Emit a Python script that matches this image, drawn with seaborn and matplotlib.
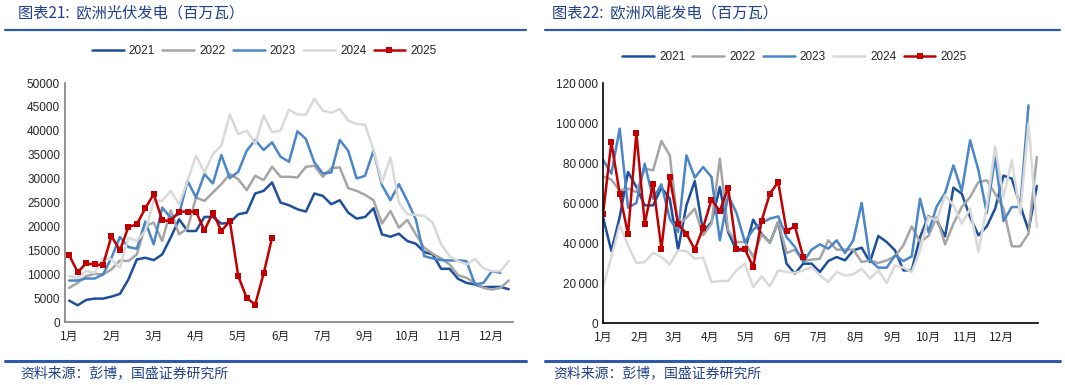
import pandas as pd
import seaborn as sns
import matplotlib.pyplot as plt

years = ['2021', '2022', '2023', '2024', '2025']
colors = ['#1C4F9C', '#A5A5A5', '#4A86C8', '#D9D9D9', '#C00000']

# 欧洲光伏发电（百万瓦）, weekly
pv_2021 = [4480, 3500, 4620, 4900, 4900, 5320, 5880, 8890, 13090, 13440,
           12950, 14140, 17640, 21490, 19040, 19040, 21980, 21980, 20580, 20790,
           22540, 22890, 26880, 27440, 29190, 24990, 24430, 23590, 23100, 26880,
           26390, 24640, 25480, 22890, 21630, 21980, 23800, 18340, 17850, 18480,
           16940, 16380, 14630, 14140, 11130, 11130, 9030, 8190, 7840, 7280,
           7350, 7350, 6860]
pv_2022 = [7140, 8190, 9590, 10080, 9940, 10990, 12880, 12740, 14140, 20090,
           20790, 16940, 23380, 18340, 19600, 26040, 25340, 27090, 28840, 30940,
           29890, 27580, 30590, 29680, 32480, 30380, 30380, 30240, 32480, 32690,
           30380, 32200, 32340, 28000, 27440, 26600, 25480, 20580, 23240, 19740,
           21350, 18340, 15540, 14280, 13300, 12040, 9800, 9240, 8190, 7140,
           6790, 7140, 8680]
pv_2023 = [8680, 8680, 9100, 9100, 9940, 13440, 17780, 15680, 15330, 21000,
           16240, 23940, 21840, 22540, 29540, 26040, 30940, 28980, 34930, 30100,
           31430, 35840, 38080, 35980, 37590, 34580, 33530, 39900, 38290, 33390,
           31080, 31290, 38080, 35840, 30030, 30590, 35840, 28630, 25480, 28840,
           25340, 21490, 13790, 13300, 12950, 12880, 12880, 12740, 7840, 8190,
           10640, 10290]
pv_2024 = [9590, 9240, 10640, 10290, 13440, 13090, 11340, 17640, 16940, 19040,
           25340, 25340, 27440, 24640, 29540, 34790, 31290, 35140, 36890, 43400,
           39340, 40040, 37240, 43190, 39690, 40040, 44450, 43400, 43400, 46690,
           44240, 43750, 44590, 42140, 41440, 41300, 35980, 29190, 34440, 24990,
           22540, 22400, 22190, 20790, 16240, 13790, 12740, 12040, 13230, 11200,
           10640, 10640, 12740]
pv_2025 = [14000, 10430, 12250, 12040, 11900, 17990, 14980, 19880, 20440, 23800,
           26740, 21280, 21140, 23100, 23100, 23100, 19180, 22890, 19040, 21140,
           9590, 5040, 3640, 10150, 17640]
pv_labels = ['1月', '2月', '3月', '4月', '5月', '6月', '7月', '9月', '10月', '11月', '12月']

# 欧洲风能发电（百万瓦）, weekly
wind_2021 = [53000, 36000, 53000, 75500, 68000, 58830, 58830, 67670, 62170, 36670,
             58830, 71000, 45500, 50500, 68000, 45500, 36330, 36330, 51670, 44670,
             40170, 50500, 29670, 24670, 29670, 29670, 25500, 31000, 33000, 31330,
             36330, 37670, 30500, 43500, 40500, 36330, 26330, 26330, 43000, 53330,
             51330, 43330, 67670, 64670, 53000, 43830, 48330, 57170, 73670, 72170,
             58830, 46330, 68500]
wind_2022 = [73330, 71670, 66330, 67170, 65500, 77170, 76330, 91000, 83830, 48830,
             52670, 57170, 43830, 49670, 82170, 46330, 40500, 40500, 33000, 44330,
             40000, 50500, 35000, 36670, 31000, 31670, 32170, 41330, 36670, 36670,
             36670, 30500, 31330, 30000, 31330, 33330, 38830, 48330, 40500, 43500,
             53000, 39330, 49670, 58000, 63000, 70500, 71330, 64670, 57170, 38330,
             38330, 44670, 83000]
wind_2023 = [81670, 74670, 97170, 57670, 60000, 79670, 62170, 69330, 52170, 45500,
             83830, 72670, 78000, 73000, 41330, 63830, 55000, 40500, 46670, 50000,
             52170, 53330, 43000, 38000, 30500, 36670, 39330, 37170, 41330, 35000,
             41330, 60000, 31330, 27670, 27670, 33830, 31000, 33330, 62170, 45500,
             58330, 65000, 78830, 66000, 91330, 76330, 55000, 83000, 51000, 58000,
             58000, 108830]
wind_2024 = [18000, 33000, 49000, 38830, 30000, 30500, 35170, 33000, 29330, 36330,
             36000, 32170, 32670, 20500, 21000, 21000, 26330, 29670, 18000, 23330,
             18330, 26330, 25500, 25000, 26330, 28000, 23830, 20500, 25500, 23830,
             24330, 27170, 22170, 26330, 20000, 28830, 27670, 25500, 36330, 53000,
             51330, 63830, 58830, 49670, 57170, 35500, 58330, 88330, 63000, 81330,
             54330, 99670, 48000]
wind_2025 = [54340, 90520, 64680, 44340, 95020, 49680, 69680, 37170, 73010, 49340,
             44680, 36670, 47680, 61680, 56010, 67680, 37010, 37010, 28010, 51010,
             64680, 70510, 46010, 48340, 33010]
wind_labels = ['1月', '2月', '3月', '4月', '5月', '6月', '7月', '8月', '9月', '10月', '11月', '12月']

sns.set_theme(style='white')
plt.rcParams['font.family'] = ['Liberation Sans', 'DejaVu Sans', 'Noto Sans CJK SC']
cjk = ['Noto Sans CJK SC', 'DejaVu Sans']
navy = '#1F3F8F'
rule = '#2E5AA8'


def draw_lines(ax, xs, series):
    for yr, vals, c in zip(years, series, colors):
        n = len(vals)
        if yr == '2025':
            sns.lineplot(x=xs[:n], y=vals, ax=ax, color=c, lw=1.8, marker='s',
                         markersize=4.8, markeredgewidth=0, label=yr)
        else:
            sns.lineplot(x=xs[:n], y=vals, ax=ax, color=c, lw=1.8, label=yr)


def style_axes(ax, spine_color, legend_x, legend_y):
    for s in ['top', 'right']:
        ax.spines[s].set_visible(False)
    for s in ['left', 'bottom']:
        ax.spines[s].set_color(spine_color)
        ax.spines[s].set_linewidth(1.2)
    ax.tick_params(axis='both', which='major', direction='in', length=4, width=1,
                   color=spine_color, labelsize=8.5, labelcolor='#262626')
    ax.set_xlabel('')
    ax.set_ylabel('')
    ax.legend(loc='center', bbox_to_anchor=(legend_x, legend_y), ncol=5, frameon=False,
              fontsize=8.5, handlelength=2.7, columnspacing=0.6, handletextpad=0.45)


fig = plt.figure(figsize=(10.65, 3.85), dpi=100)

# left: solar
ax1 = fig.add_axes([0.061, 0.1636, 0.4207, 0.6208])
pv_x = [i + 0.5 for i in range(53)]
draw_lines(ax1, pv_x, [pv_2021, pv_2022, pv_2023, pv_2024, pv_2025])
ax1.set_xlim(0, 53)
ax1.set_ylim(0, 50000)
ax1.set_yticks(range(0, 50001, 5000))
ax1.set_xticks(range(0, 53, 4))
ax1.set_xticklabels([])
ax1.set_xticks([i + 0.5 for i in range(0, 53, 5)], minor=True)
ax1.set_xticklabels(pv_labels, minor=True, family=cjk, fontsize=8.5, color='#262626')
ax1.tick_params(axis='x', which='minor', length=0, pad=6)
style_axes(ax1, '#7F7F7F', 0.445, 1.135)

# right: wind
ax2 = fig.add_axes([0.5662, 0.161, 0.4085, 0.6234])
wind_x = [7 * i for i in range(53)]
draw_lines(ax2, wind_x, [wind_2021, wind_2022, wind_2023, wind_2024, wind_2025])
month_days = list(pd.date_range('2025-01-01', periods=13, freq='MS').dayofyear - 1)
month_days[-1] = 365
ax2.set_xlim(0, 365)
ax2.set_ylim(0, 120000)
ax2.set_yticks(range(0, 120001, 20000))
ax2.set_yticklabels([f'{v:,}'.replace(',', '\u2009') for v in range(0, 120001, 20000)])
ax2.set_xticks(month_days)
ax2.set_xticklabels(wind_labels + [''], family=cjk, fontsize=8.5)
style_axes(ax2, '#000000', 0.44, 1.108)
ax2.tick_params(axis='x', pad=6)

# titles, rules, footers
fig.text(18 / 1065, 1 - 13 / 385, '图表21:  欧洲光伏发电（百万瓦）', family=cjk, fontsize=11,
         color=navy, va='center', ha='left')
fig.text(552 / 1065, 1 - 13 / 385, '图表22:  欧洲风能发电（百万瓦）', family=cjk, fontsize=11,
         color=navy, va='center', ha='left')
for x0, x1 in [(5, 526), (545, 1060)]:
    fig.add_artist(plt.Line2D([x0 / 1065, x1 / 1065], [1 - 30 / 385] * 2, color=rule, lw=1.6))
    fig.add_artist(plt.Line2D([x0 / 1065, x1 / 1065], [1 - 361 / 385] * 2, color=rule, lw=2.2))
fig.text(20 / 1065, 1 - 373 / 385, '资料来源：彭博，国盛证券研究所', family=cjk, fontsize=10,
         color=navy, va='center', ha='left')
fig.text(553 / 1065, 1 - 373 / 385, '资料来源：彭博，国盛证券研究所', family=cjk, fontsize=10,
         color=navy, va='center', ha='left')

fig.savefig('out.png', dpi=100)
